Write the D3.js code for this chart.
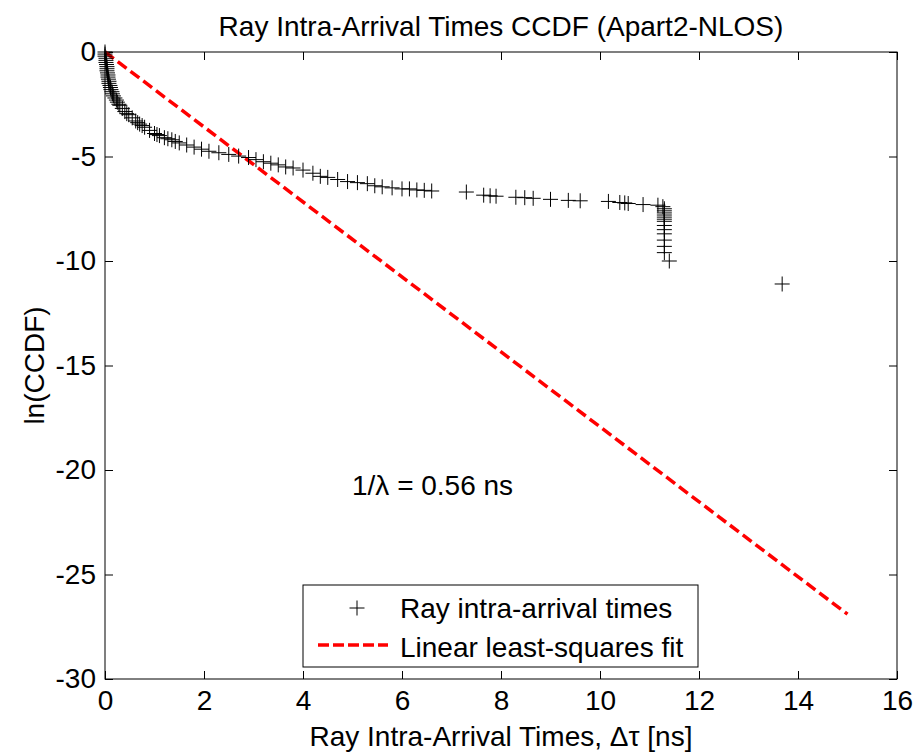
<!DOCTYPE html>
<html>
<head>
<meta charset="utf-8">
<script src="https://cdn.jsdelivr.net/npm/d3@7"></script>
<style>
  body { margin: 0; background: #fff; }
  text { font-family: "Liberation Sans", Arial, sans-serif; fill: #000; }
</style>
</head>
<body>
<svg id="chart" width="916" height="753"></svg>
<script>
// Ray intra-arrival times (ns) and ln(CCDF)
const rayX = [0.00, 0.00, 0.00, 0.02, 0.02, 0.02, 0.03, 0.04, 0.04, 0.04, 0.05, 0.06, 0.06, 0.07, 0.08, 0.08,
  0.10, 0.11, 0.12, 0.14, 0.15, 0.17,
  0.20, 0.23, 0.25, 0.28, 0.30, 0.35, 0.40, 0.44, 0.48, 0.55, 0.62, 0.66, 0.70, 0.75, 0.80, 0.90,
  1.00, 1.05, 1.10, 1.20, 1.27, 1.35, 1.42, 1.50, 1.65, 1.80, 1.95, 2.10, 2.30, 2.50, 2.70, 2.90,
  3.05, 3.20, 3.35, 3.50, 3.65, 3.80,
  4.00, 4.20, 4.35, 4.50, 4.70, 4.90, 5.10, 5.30, 5.45, 5.60, 5.80, 6.00, 6.15, 6.30, 6.45,
  6.60, 7.30, 7.65, 7.78, 7.90, 8.30, 8.48, 8.65, 9.00, 9.36, 9.60, 10.17, 10.40, 10.50, 10.57,
  10.87, 11.17, 11.27, 11.30, 11.30, 11.30, 11.30, 11.30, 11.30, 11.30, 11.30, 11.30, 11.30, 11.30,
  11.30, 11.30, 11.40, 13.68];
const rayY = [0.00, -0.10, -0.20, -0.30, -0.40, -0.50, -0.60, -0.70, -0.80, -0.90, -1.00, -1.10, -1.20, -1.30, -1.40, -1.50,
  -1.60, -1.70, -1.80, -1.90, -2.00, -2.10,
  -2.20, -2.30, -2.40, -2.50, -2.55, -2.70, -2.85, -2.95, -3.00, -3.15, -3.30, -3.38, -3.45, -3.52, -3.60, -3.75,
  -3.90, -3.95, -4.00, -4.10, -4.15, -4.20, -4.28, -4.35, -4.45, -4.55, -4.65, -4.75, -4.82, -4.90, -4.98, -5.05,
  -5.15, -5.25, -5.32, -5.40, -5.50, -5.55,
  -5.65, -5.80, -5.95, -6.00, -6.10, -6.20, -6.25, -6.30, -6.40, -6.45, -6.50, -6.55, -6.55, -6.60, -6.62,
  -6.65, -6.70, -6.85, -6.88, -6.90, -6.95, -6.97, -7.00, -7.05, -7.10, -7.12, -7.15, -7.20, -7.22, -7.25,
  -7.30, -7.33, -7.40, -7.50, -7.60, -7.70, -7.80, -7.90, -8.00, -8.10, -8.30, -8.50, -8.70, -9.00,
  -9.30, -9.60, -10.00, -11.10];

// linear least-squares fit, endpoints
const fitX = [0, 15];
const fitY = [0, -26.9];

const xTicks = [0, 2, 4, 6, 8, 10, 12, 14, 16];
const yTicks = [0, -5, -10, -15, -20, -25, -30];

const title = "Ray Intra-Arrival Times CCDF (Apart2-NLOS)";
const xLabel = "Ray Intra-Arrival Times, \u0394\u03c4 [ns]";
const yLabel = "ln(CCDF)";
const note = "1/\u03bb = 0.56 ns";
const legendLabels = ["Ray intra-arrival times", "Linear least-squares fit"];

const margin = {left: 105, right: 19, top: 52, bottom: 74};
const W = 916, H = 753;
const pw = W - margin.left - margin.right;
const ph = H - margin.top - margin.bottom;

const svg = d3.select("#chart");
const g = svg.append("g").attr("transform", `translate(${margin.left},${margin.top})`);

const x = d3.scaleLinear().domain([0, 16]).range([0, pw]);
const y = d3.scaleLinear().domain([-30, 0]).range([ph, 0]);

const fontSize = 28;
const fmt = d => String(d); // plain hyphen minus like the original

// axes, MATLAB style with inward ticks on all four sides
const tickLen = 8;
g.append("g").attr("transform", `translate(0,${ph})`)
  .call(d3.axisBottom(x).tickValues(xTicks).tickSize(-tickLen).tickPadding(11).tickFormat(fmt))
  .call(a => a.select(".domain").remove());
g.append("g")
  .call(d3.axisTop(x).tickValues(xTicks).tickSize(-tickLen).tickFormat(""))
  .call(a => a.select(".domain").remove());
g.append("g")
  .call(d3.axisLeft(y).tickValues(yTicks).tickSize(-tickLen).tickPadding(9).tickFormat(fmt))
  .call(a => a.select(".domain").remove());
g.append("g").attr("transform", `translate(${pw},0)`)
  .call(d3.axisRight(y).tickValues(yTicks).tickSize(-tickLen).tickFormat(""))
  .call(a => a.select(".domain").remove());

g.selectAll(".tick line").attr("stroke", "#000");
g.selectAll(".tick text")
  .style("font-family", "'Liberation Sans', Arial, sans-serif")
  .style("font-size", fontSize + "px")
  .attr("fill", "#000");

g.append("rect").attr("width", pw).attr("height", ph)
  .attr("fill", "none").attr("stroke", "#000").attr("stroke-width", 1);

// fit line
const fitData = fitX.map((v, i) => [v, fitY[i]]);
g.append("path")
  .datum(fitData)
  .attr("d", d3.line().x(d => x(d[0])).y(d => y(d[1])))
  .attr("fill", "none")
  .attr("stroke", "#ff0000")
  .attr("stroke-width", 3.5)
  .attr("stroke-dasharray", "11,5");

// ray markers
const arm = 7.5;
const plus = d3.path();
plus.moveTo(-arm, 0); plus.lineTo(arm, 0);
plus.moveTo(0, -arm); plus.lineTo(0, arm);

g.selectAll(".ray")
  .data(rayX.map((v, i) => [v, rayY[i]]))
  .enter().append("path")
  .attr("class", "ray")
  .attr("transform", d => `translate(${x(d[0])},${y(d[1])})`)
  .attr("d", plus.toString())
  .attr("stroke", "#000")
  .attr("stroke-width", 1)
  .attr("fill", "none");

// note
g.append("text")
  .attr("x", x(4.99)).attr("y", y(-21.2))
  .style("font-size", fontSize + "px")
  .text(note);

// legend
const lg = svg.append("g").attr("transform", "translate(303,585)");
lg.append("rect").attr("width", 395).attr("height", 82)
  .attr("fill", "#fff").attr("stroke", "#000").attr("stroke-width", 1);
lg.append("path")
  .attr("transform", "translate(54,23)")
  .attr("d", plus.toString())
  .attr("stroke", "#000").attr("fill", "none");
lg.append("line")
  .attr("x1", 15).attr("x2", 85).attr("y1", 60).attr("y2", 60)
  .attr("stroke", "#ff0000").attr("stroke-width", 3.5).attr("stroke-dasharray", "11,4");
lg.selectAll(".lt").data(legendLabels).enter().append("text")
  .attr("x", 97).attr("y", (d, i) => 33 + i * 39)
  .style("font-size", fontSize + "px")
  .text(d => d);

// titles
svg.append("text")
  .attr("x", margin.left + pw / 2).attr("y", 36)
  .attr("text-anchor", "middle")
  .style("font-size", fontSize + "px")
  .text(title);
svg.append("text")
  .attr("x", margin.left + pw / 2).attr("y", 746)
  .attr("text-anchor", "middle")
  .style("font-size", fontSize + "px")
  .text(xLabel);
svg.append("text")
  .attr("transform", `translate(44,${margin.top + ph / 2}) rotate(-90)`)
  .attr("text-anchor", "middle")
  .style("font-size", fontSize + "px")
  .text(yLabel);
</script>
</body>
</html>
